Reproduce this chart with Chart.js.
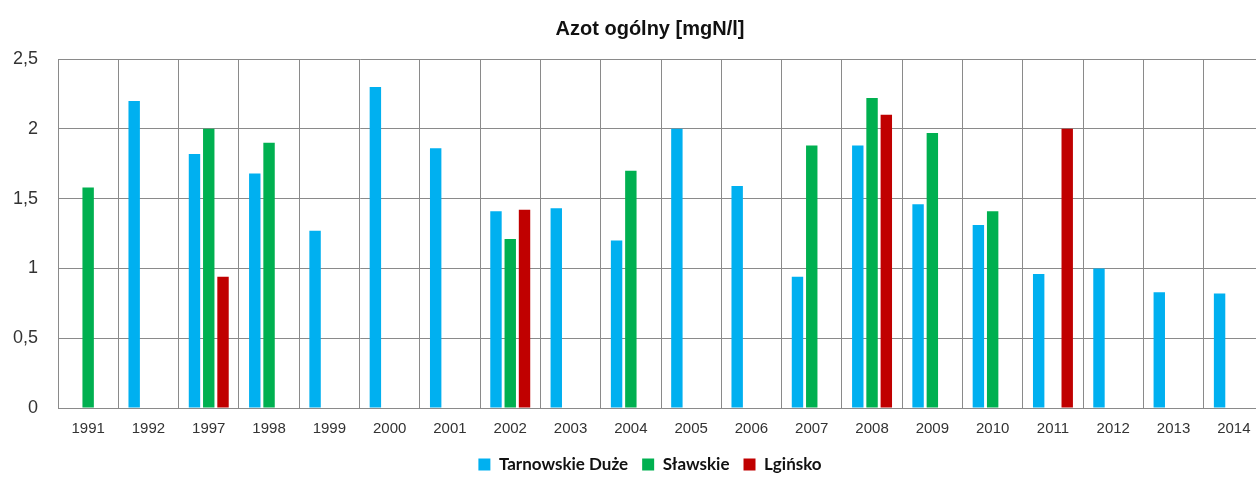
<!DOCTYPE html>
<html>
<head>
<meta charset="utf-8">
<script src="https://cdn.jsdelivr.net/npm/chart.js@4/dist/chart.umd.min.js"></script>
<style>
  html, body { margin: 0; padding: 0; background: #fff; overflow: hidden; }
  #wrap { width: 1256px; height: 485px; overflow: hidden; }
  #box { width: 1300px; height: 485px; position: relative; }
</style>
</head>
<body>
<div id="wrap"><div id="box"><canvas id="chart"></canvas></div></div>
<script>
// dane
const lata = ['1991','1992','1997','1998','1999','2000','2001','2002','2003','2004','2005','2006','2007','2008','2009','2010','2011','2012','2013','2014'];
const tarnowskie = [null, 2.2, 1.82, 1.68, 1.27, 2.3, 1.86, 1.41, 1.43, 1.2, 2.0, 1.59, 0.94, 1.88, 1.46, 1.31, 0.96, 1.0, 0.83, 0.82];
const slawskie   = [1.58, null, 2.0, 1.9, null, null, null, 1.21, null, 1.7, null, null, 1.88, 2.22, 1.97, 1.41, null, null, null, null];
const lginsko    = [null, null, 0.94, null, null, null, null, 1.42, null, null, null, null, null, 2.1, null, null, 2.0, null, null, null];
const tytul = 'Azot ogólny [mgN/l]';

const gridCol = '#8a8a8a';

new Chart(document.getElementById('chart'), {
  type: 'bar',
  data: {
    labels: lata,
    datasets: [
      { label: 'Tarnowskie Duże', data: tarnowskie, backgroundColor: '#00B0F0' },
      { label: 'Sławskie', data: slawskie, backgroundColor: '#00B050' },
      { label: 'Lgińsko', data: lginsko, backgroundColor: '#C00000' }
    ]
  },
  options: {
    responsive: true,
    maintainAspectRatio: false,
    animation: false,
    categoryPercentage: 0.71,
    barPercentage: 0.8,
    layout: { padding: { left: 0, right: 0, top: 0, bottom: 2 } },
    plugins: {
      tooltip: { enabled: false },
      title: {
        display: true,
        text: tytul,
        color: '#111',
        font: { family: 'Liberation Sans, Arial, sans-serif', size: 20, weight: 'bold' },
        padding: { top: 17, bottom: 18 }
      },
      legend: {
        position: 'bottom',
        labels: {
          boxWidth: 12,
          boxHeight: 12,
          padding: 14,
          color: '#111',
          font: { family: 'Lato, "Noto Sans", sans-serif', size: 17, weight: 'bold' }
        }
      }
    },
    scales: {
      x: {
        afterFit: s => { s.height = 34; },
        grid: { color: gridCol, drawTicks: false, offset: true },
        border: { color: gridCol },
        ticks: {
          color: '#333',
          padding: 12,
          maxRotation: 0,
          font: { family: 'Liberation Sans, Arial, sans-serif', size: 15 }
        }
      },
      y: {
        min: 0,
        max: 2.5,
        afterFit: s => { s.width = 58; },
        grid: { color: gridCol, drawTicks: false },
        border: { color: gridCol },
        ticks: {
          stepSize: 0.5,
          color: '#333',
          padding: 20,
          font: { family: 'Liberation Sans, Arial, sans-serif', size: 18 },
          callback: v => String(v).replace('.', ',')
        }
      },
      // pusta os po prawej - zostawia margines, tytul i legenda zostaja na srodku
      yPrawa: {
        position: 'right',
        min: 0,
        max: 2.5,
        afterFit: s => { s.width = 36; },
        grid: { display: false },
        border: { display: false },
        ticks: { display: false }
      }
    }
  }
});
</script>
</body>
</html>
